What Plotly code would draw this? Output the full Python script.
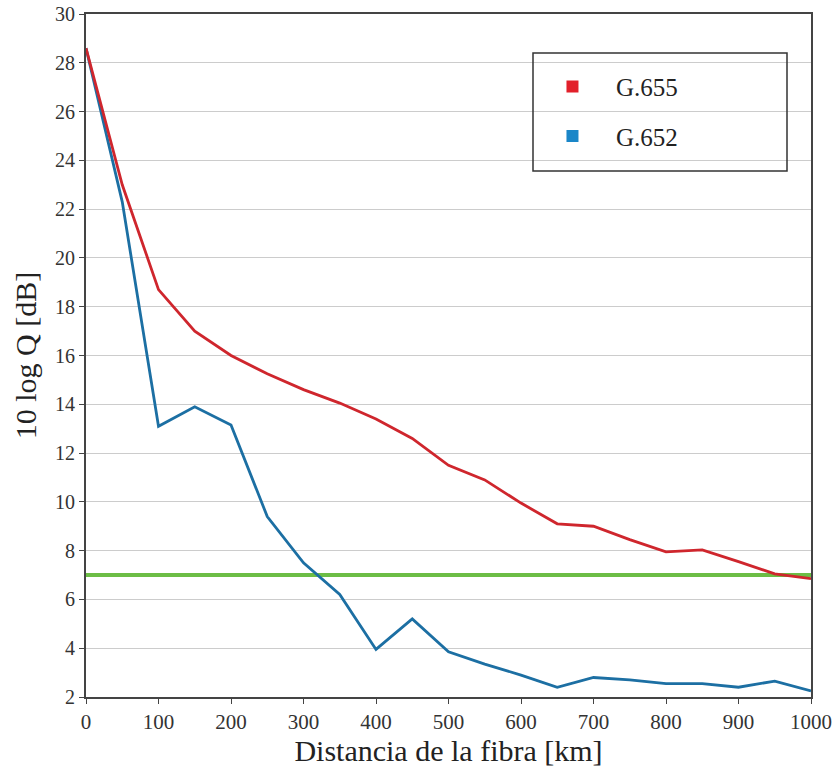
import plotly.graph_objects as go

distance_km = [0, 50, 100, 150, 200, 250, 300, 350, 400, 450, 500, 550, 600, 650, 700, 750, 800, 850, 900, 950, 1000]
g655 = [28.6, 23.0, 18.7, 17.0, 16.0, 15.25, 14.6, 14.05, 13.4, 12.6, 11.5, 10.9, 9.95, 9.1, 9.0, 8.45, 7.95, 8.03, 7.55, 7.05, 6.85]
g652 = [28.6, 22.3, 13.1, 13.9, 13.15, 9.4, 7.5, 6.2, 3.95, 5.2, 3.85, 3.35, 2.9, 2.4, 2.8, 2.7, 2.55, 2.55, 2.4, 2.65, 2.25]
threshold = 7.0
series_names = ["G.655", "G.652"]
x_ticks = [0, 100, 200, 300, 400, 500, 600, 700, 800, 900, 1000]
y_ticks = list(range(2, 31, 2))

red_line = "#cf262d"
blue_line = "#1c6fa3"
red_mark = "#e2202a"
blue_mark = "#1a86c8"
green = "#6cbd45"
font = "Liberation Serif, Times New Roman, serif"

fig = go.Figure()
fig.add_trace(go.Scatter(x=distance_km, y=[threshold] * len(distance_km), mode="lines",
                         line=dict(color=green, width=4), showlegend=False, hoverinfo="skip"))
fig.add_trace(go.Scatter(x=distance_km, y=g652, mode="lines",
                         line=dict(color=blue_line, width=2.8), showlegend=False))
fig.add_trace(go.Scatter(x=distance_km, y=g655, mode="lines",
                         line=dict(color=red_line, width=2.8), showlegend=False))
# legend entries
fig.add_trace(go.Scatter(x=[None], y=[None], mode="markers", name=series_names[0], legendgroup="a",
                         marker=dict(symbol="square", size=12, color=red_mark)))
fig.add_trace(go.Scatter(x=[None], y=[None], mode="markers", name=series_names[1], legendgroup="b",
                         marker=dict(symbol="square", size=12, color=blue_mark)))

fig.update_layout(
    width=835, height=771,
    margin=dict(l=86, r=24, t=14, b=74),
    paper_bgcolor="white", plot_bgcolor="white",
    font=dict(family=font, color="#333333"),
    showlegend=True,
    legend=dict(x=0.611, y=0.927, xanchor="left", yanchor="top",
                bgcolor="rgba(0,0,0,0)", borderwidth=0,
                font=dict(family=font, size=25, color="#222222"),
                tracegroupgap=14, itemwidth=77),
    xaxis=dict(range=[0, 1000], tickvals=x_ticks, ticks="outside", ticklen=5, tickcolor="#444",
               showgrid=False, zeroline=False, showline=True, linecolor="#444", linewidth=2, mirror=True,
               automargin=False,
               tickfont=dict(family=font, size=21, color="#333"),
               title=dict(text="Distancia de la fibra [km]", font=dict(family=font, size=30, color="#222"), standoff=2)),
    yaxis=dict(range=[2, 30], tickvals=y_ticks, ticks="outside", ticklen=5, tickcolor="#444",
               showgrid=True, gridcolor="#cccccc", gridwidth=1.3, zeroline=False,
               showline=True, linecolor="#444", linewidth=2, mirror=True,
               automargin=False,
               tickfont=dict(family=font, size=20, color="#333"),
               title=dict(text="10 log Q [dB]", font=dict(family=font, size=30, color="#222"), standoff=10)),
    shapes=[dict(type="rect", xref="paper", yref="paper",
                 x0=(533 - 86) / 725, x1=(787 - 86) / 725,
                 y0=(697 - 171) / 683, y1=(697 - 53) / 683,
                 line=dict(color="#333", width=1.5), fillcolor="rgba(0,0,0,0)")],
)

fig.write_html("out.html")
